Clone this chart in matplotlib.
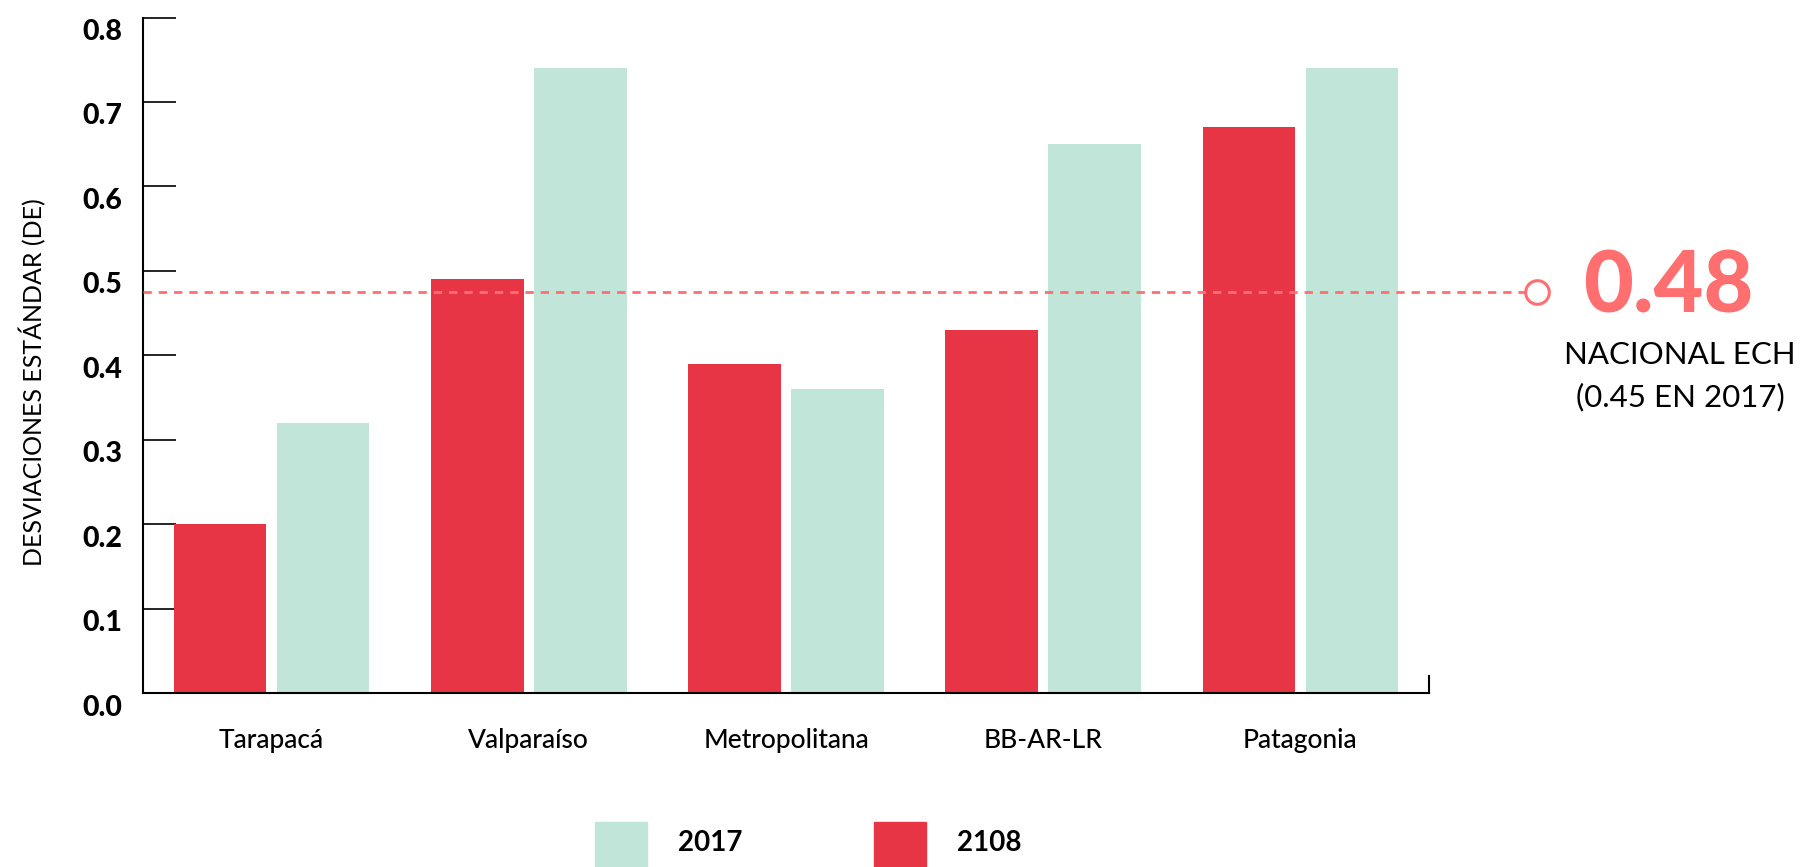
import matplotlib.pyplot as plt
import matplotlib.transforms as mtransforms
from matplotlib.patches import Rectangle

# datos
regiones = ['Tarapacá', 'Valparaíso', 'Metropolitana', 'BB-AR-LR', 'Patagonia']
de_2108 = [0.20, 0.49, 0.39, 0.43, 0.67]
de_2017 = [0.32, 0.74, 0.36, 0.65, 0.74]
nacional = 0.475
nacional_txt = '0.48'
yticks = [0.0, 0.1, 0.2, 0.3, 0.4, 0.5, 0.6, 0.7, 0.8]

rojo = '#E83546'
verde = '#C1E5D8'
salmon = '#FF6F70'

plt.rcParams['font.family'] = ['Lato', 'DejaVu Sans']

W, H = 1812, 867
fig = plt.figure(figsize=(W / 100, H / 100), dpi=100)


def fx(x):
    return x / W


def fy(y):
    return 1 - y / H


ax = fig.add_axes([fx(143), fy(693), fx(1429) - fx(143), fy(17.5) - fy(693)])

x = list(range(len(regiones)))
ancho = 0.36
ax.bar([i - 0.2 for i in x], de_2108, width=ancho, color=rojo, zorder=2)
ax.bar([i + 0.2 for i in x], de_2017, width=ancho, color=verde, zorder=2)

ax.set_xlim(-0.5, 4.5)
ax.set_ylim(0, 0.8)

for s in ['top', 'right']:
    ax.spines[s].set_visible(False)
for s in ['left', 'bottom']:
    ax.spines[s].set_linewidth(1.5)

ax.set_yticks(yticks)
ax.set_yticklabels([f'{v:.1f}' for v in yticks], fontsize=20.5, fontweight='black')
ax.tick_params(axis='y', direction='in', length=24, width=1.2, pad=15)
off = mtransforms.ScaledTranslation(0, -12 / 100, fig.dpi_scale_trans)
for lab in ax.get_yticklabels():
    lab.set_transform(lab.get_transform() + off)

ax.set_xticks(x)
ax.set_xticklabels(regiones, fontsize=19, fontweight='medium')
ax.tick_params(axis='x', length=0, pad=25)

# remate del eje x
ax.plot([1, 1], [0, 0.025], transform=ax.transAxes, color='black', lw=1.5, clip_on=False)

ax.set_ylabel('DESVIACIONES ESTÁNDAR (DE)', fontsize=18, fontweight='normal')
ax.yaxis.set_label_coords((46 - 143) / (1429 - 143), 0.46)

# línea nacional
x_circ = -0.5 + (1537 - 143) / (1429 - 143) * 5
ax.plot([-0.5, x_circ - 0.045], [nacional, nacional], color=salmon, lw=2,
        dashes=(3, 2.5), clip_on=False, zorder=3)
ax.plot([x_circ], [nacional], marker='o', ms=17, mfc='white', mec=salmon, mew=2.2,
        clip_on=False, zorder=4)

fig.text(fx(1668), fy(288), nacional_txt, color=salmon, fontsize=62, fontweight='black',
         ha='center', va='center')
fig.text(fx(1680), fy(355), 'NACIONAL ECH', fontsize=22.5, fontweight='normal',
         ha='center', va='center')
fig.text(fx(1680), fy(397), '(0.45 EN 2017)', fontsize=22.5, fontweight='normal',
         ha='center', va='center')

# leyenda
for x0, col, txt in [(595, verde, '2017'), (874, rojo, '2108')]:
    fig.patches.append(Rectangle((fx(x0), 0), fx(52), fy(822), transform=fig.transFigure,
                                 color=col))
    fig.text(fx(x0 + 83), fy(843), txt, fontsize=20, fontweight='bold', ha='left', va='center')

fig.savefig('out.png', dpi=100)
